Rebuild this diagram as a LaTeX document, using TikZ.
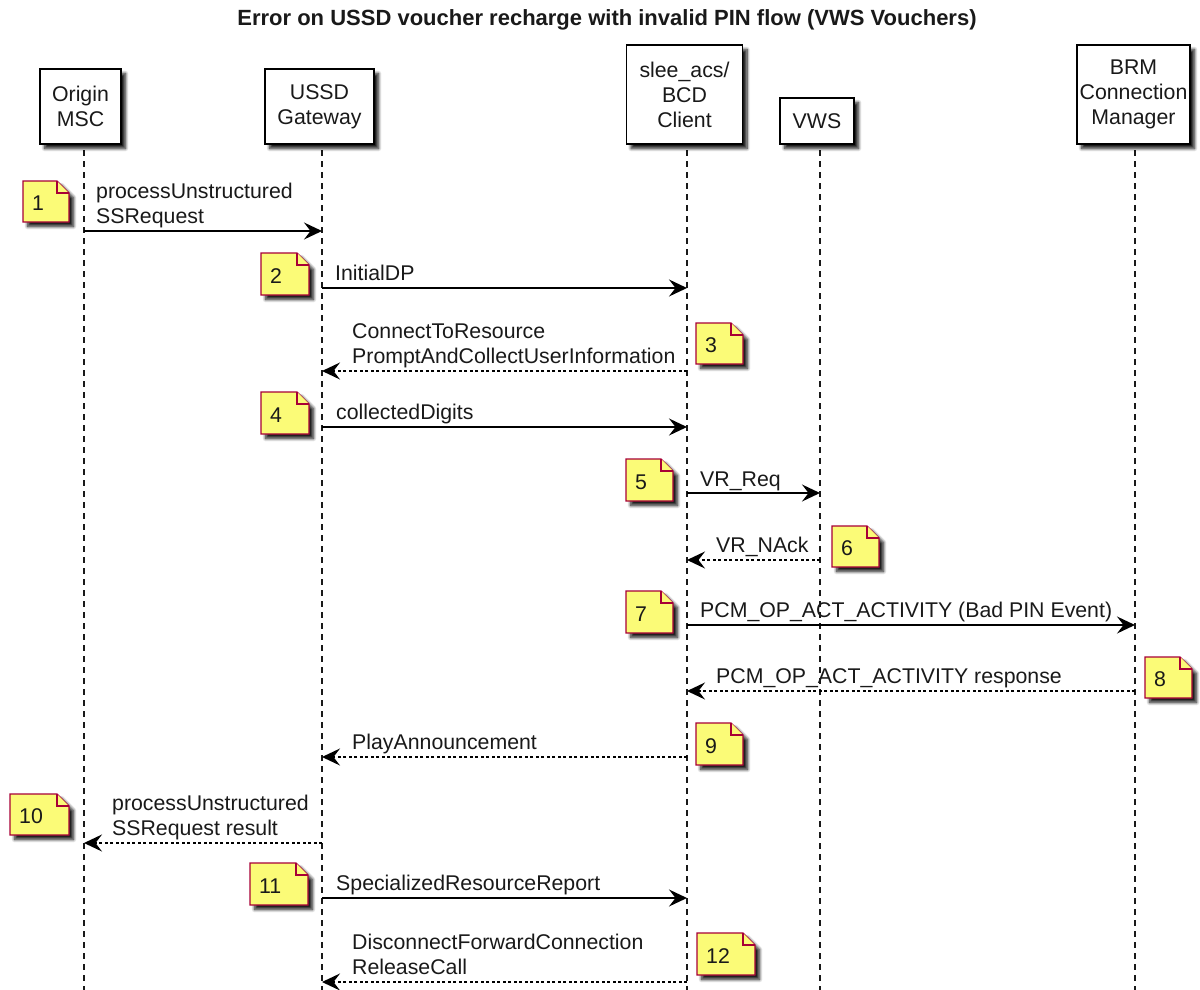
\documentclass[tikz,border=0pt]{standalone}
\usepackage{fontspec}
\setmainfont{Liberation Sans}
\usetikzlibrary{arrows.meta,shadows.blur}
\definecolor{notefill}{HTML}{FBFB77}
\definecolor{noteborder}{HTML}{A80036}
\newcommand{\seqnote}[6]{%
  % #1 name, #2 x, #3 y, #4 w, #5 h, #6 text
  \path[notestyle] (#2,#3) -- ++(#4-12,0) -- ++(12,12) -- ++(0,#5-12) -- ++(-#4,0) -- cycle;
  \draw[notefold] (#2+#4-12,#3) -- ++(0,12) -- ++(12,0);
  \node[anchor=base west] (#1) at (#2+9,#3+#5/2+9) {#6};
}
\begin{document}
\begin{tikzpicture}[x=1pt,y=-1pt,
  every node/.style={font=\fontsize{21.3}{25}\selectfont, inner sep=0pt, text=black!90},
  shad/.style={blur shadow={shadow xshift=4.5pt, shadow yshift=-4.5pt, shadow blur steps=8, shadow blur radius=3pt, shadow opacity=90}},
  part/.style={draw=black, line width=1.9pt, fill=white, align=center, shad},
  notestyle/.style={draw=noteborder, line width=1.4pt, fill=notefill, shad},
  notefold/.style={draw=noteborder, line width=1.4pt, fill=notefill},
  life/.style={draw=black!90, line width=1.5pt, dash pattern=on 6pt off 5pt},
  sync/.style={draw=black, line width=1.4pt, -{Stealth[length=18pt,width=17pt,inset=6.5pt]}},
  ret/.style={sync, dash pattern=on 3pt off 2.5pt},
  lbl/.style={anchor=south west, align=left}
]
\useasboundingbox (0,0) rectangle (1200,990);

% title
\node[font=\bfseries\fontsize{22}{26}\selectfont] (title) at (607,20)
  {Error on USSD voucher recharge with invalid PIN flow (VWS Vouchers)};

% lifeline coordinates
\coordinate (Lo) at (84,150);
\coordinate (Lu) at (322,150);
\coordinate (Ls) at (687,150);
\coordinate (Lv) at (820,150);
\coordinate (Lb) at (1135,150);
\coordinate (bottom) at (0,992);

\draw[life] (Lo) -- (Lo |- bottom);
\draw[life] (Lu) -- (Lu |- bottom);
\draw[life] (Ls) -- (Ls |- bottom);
\draw[life] (Lv) -- (Lv |- bottom);
\draw[life] (Lb) -- (Lb |- bottom);

% participants
\node[part, minimum width=81pt, minimum height=75pt] (orig) at (80.5,106.5) {Origin\\MSC};
\node[part, minimum width=109pt, minimum height=75pt] (ussd) at (319.5,106.5) {USSD\\Gateway};
\node[part, minimum width=116pt, minimum height=99pt] (slee) at (684.5,94.5) {slee\_acs/\\BCD\\Client};
\node[part, minimum width=74pt, minimum height=46pt] (vws) at (817,121) {VWS};
\node[part, minimum width=113pt, minimum height=99pt] (brm) at (1133.5,94.5) {BRM\\Connection\\Manager};

% message y-levels
\coordinate (y1) at (0,231);
\coordinate (y2) at (0,288);
\coordinate (y3) at (0,371);
\coordinate (y4) at (0,427);
\coordinate (y5) at (0,493);
\coordinate (y6) at (0,560);
\coordinate (y7) at (0,625);
\coordinate (y8) at (0,691);
\coordinate (y9) at (0,757);
\coordinate (y10) at (0,843);
\coordinate (y11) at (0,898);
\coordinate (y12) at (0,982);

% messages
\draw[sync] (Lo |- y1) -- (Lu |- y1);
\node[lbl] (t1) at (96,228.5) {processUnstructured\\SSRequest\vphantom{gp}};
\draw[sync] (Lu |- y2) -- (Ls |- y2);
\node[lbl] (t2) at (335,285.5) {InitialDP\vphantom{gp}};
\draw[ret] (Ls |- y3) -- (Lu |- y3);
\node[lbl] (t3) at (352,368.5) {ConnectToResource\\PromptAndCollectUserInformation\vphantom{gp}};
\draw[sync] (Lu |- y4) -- (Ls |- y4);
\node[lbl] (t4) at (336,424.5) {collectedDigits\vphantom{gp}};
\draw[sync] (Ls |- y5) -- (Lv |- y5);
\node[lbl] (t5) at (700,491.5) {VR\_Req\vphantom{gp}};
\draw[ret] (Lv |- y6) -- (Ls |- y6);
\node[lbl] (t6) at (716,557.5) {VR\_NAck\vphantom{gp}};
\draw[sync] (Ls |- y7) -- (Lb |- y7);
\node[lbl] (t7) at (700,622.5) {PCM\_OP\_ACT\_ACTIVITY (Bad PIN Event)\vphantom{gp}};
\draw[ret] (Lb |- y8) -- (Ls |- y8);
\node[lbl] (t8) at (716,688.5) {PCM\_OP\_ACT\_ACTIVITY response\vphantom{gp}};
\draw[ret] (Ls |- y9) -- (Lu |- y9);
\node[lbl] (t9) at (352,754.5) {PlayAnnouncement\vphantom{gp}};
\draw[ret] (Lu |- y10) -- (Lo |- y10);
\node[lbl] (t10) at (112,840.5) {processUnstructured\\SSRequest result\vphantom{gp}};
\draw[sync] (Lu |- y11) -- (Ls |- y11);
\node[lbl] (t11) at (336,895.5) {SpecializedResourceReport\vphantom{gp}};
\draw[ret] (Ls |- y12) -- (Lu |- y12);
\node[lbl] (t12) at (352,979.5) {DisconnectForwardConnection\\ReleaseCall\vphantom{gp}};

% notes
\seqnote{n1}{23}{181}{46}{41}{1}
\seqnote{n2}{261}{253}{48}{42}{2}
\seqnote{n3}{696}{323}{47}{41}{3}
\seqnote{n4}{261}{392}{48}{42}{4}
\seqnote{n5}{626}{459}{47}{42}{5}
\seqnote{n6}{832}{526}{47}{41}{6}
\seqnote{n7}{626}{591}{47}{42}{7}
\seqnote{n8}{1145}{657}{47}{41}{8}
\seqnote{n9}{696}{723}{47}{42}{9}
\seqnote{n10}{10}{794}{59}{41}{10}
\seqnote{n11}{250}{863}{58}{42}{11}
\seqnote{n12}{697}{933}{58}{42}{12}
\end{tikzpicture}
\end{document}
